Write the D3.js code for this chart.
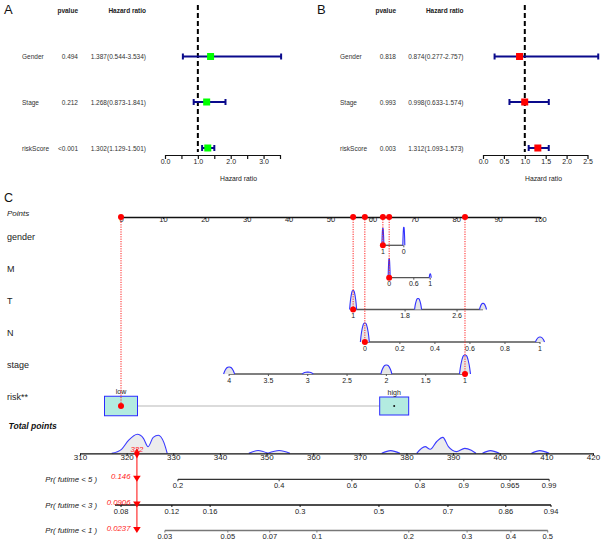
<!DOCTYPE html>
<html><head><meta charset="utf-8">
<script src="https://cdn.jsdelivr.net/npm/d3@7"></script>
<style>body{margin:0;background:#fff} svg{display:block} text{font-family:"Liberation Sans",Arial,sans-serif}</style>
</head><body><svg id="c" width="605" height="544"></svg>
<script>
// ---------- DATA ----------
const forestVars = ["Gender", "Stage", "riskScore"];
const uniP = ["0.494", "0.212", "<0.001"];
const uniHR = [1.387, 1.268, 1.302];
const uniLo = [0.544, 0.873, 1.129];
const uniHi = [3.534, 1.841, 1.501];
const multiP = ["0.818", "0.993", "0.003"];
const multiHR = [0.874, 0.998, 1.312];
const multiLo = [0.277, 0.633, 1.093];
const multiHi = [2.757, 1.574, 1.573];
const uniTicks = [0, 0.5, 1, 1.5, 2, 2.5, 3, 3.5];
const uniTickLabels = ["0.0", "", "1.0", "", "2.0", "", "3.0", ""];
const multiTicks = [0, 0.5, 1, 1.5, 2, 2.5];
const multiTickLabels = ["0.0", "0.5", "1.0", "1.5", "2.0", "2.5"];

const pointsTicks = [0, 10, 20, 30, 40, 50, 60, 70, 80, 90, 100];
const genderLabels = ["1", "0"];
const genderPts = [62.5, 67.5];
const genderDens = [1.0 * 0.9, 0.95];
const mTicks = [0, 0.6, 1];
const mRange = [0, 1], mPts = [64.0, 73.8];
const mDens = [[0, 1.0], [1, 0.2]];
const tTicks = [1, 1.8, 2.6];
const tRange = [1, 3], tPts = [55.4, 86.4];
const tDens = [[1, 1.0], [2, 0.58], [3, 0.32]];
const nTicks = [0, 0.2, 0.4, 0.6, 0.8, 1];
const nRange = [0, 1], nPts = [58.2, 100];
const nDens = [[0, 1.0], [1, 0.26]];
const stageTicks = [4, 3.5, 3, 2.5, 2, 1.5, 1];
const stageRange = [4, 1], stagePts = [25.8, 82.1];
const stageDens = [[4, 0.37], [3, 0.1], [2, 0.47], [1, 1.0]];
const riskLabels = ["low", "high"];
const riskPts = [0, 65.2];
const selected = {gender: 0, M: 0, T: 1, N: 0, stage: 1, risk: 0};

const totalTicks = [310, 320, 330, 340, 350, 360, 370, 380, 390, 400, 410, 420];
const totalDensity = [
  [[316.8, 0], [318.9, 0.21], [320.4, 0.68], [322.3, 1.0], [323.6, 0.79], [324.6, 0.35], [325.7, 0.84], [326.8, 0.95], [328.0, 0.56], [328.7, 0]],
  [[346.2, 0], [348.2, 0.15], [350.3, 0]],
  [[350.3, 0], [352.7, 0.15], [355.0, 0]],
  [[374.7, 0], [376.6, 0.14], [378.6, 0]],
  [[382.2, 0], [384.0, 0.35], [385.1, 0.21], [386.5, 0.62], [387.8, 0.84], [389.0, 0.35], [390.7, 0.09], [392.5, 0.26], [393.9, 0.16], [394.9, 0]],
  [[396.3, 0], [398.0, 0.14], [399.9, 0]],
  [[406.8, 0], [408.6, 0.14], [410.6, 0]]
];
const prLabels = ["Pr( futime < 5 )", "Pr( futime < 3 )", "Pr( futime < 1 )"];
const prPred = ["0.146", "0.0906", "0.0237"];
const pr5Ticks = ["0.2", "0.4", "0.6", "0.8", "0.9", "0.965", "0.99"];
const pr5At = [331.0, 352.7, 368.3, 382.9, 392.3, 402.2, 410.6];
const pr3Ticks = ["0.08", "0.12", "0.16", "0.3", "0.5", "0.7", "0.86", "0.94"];
const pr3At = [318.8, 329.7, 337.9, 357.2, 374.1, 388.9, 401.3, 411.0];
const pr1Ticks = ["0.03", "0.05", "0.07", "0.1", "0.2", "0.3", "0.4", "0.5"];
const pr1At = [328.2, 341.7, 350.7, 360.8, 380.5, 393.0, 402.4, 410.3];
const prAxisStart = [331.0, 317.5, 328.2];

// ---------- DRAW ----------
const svg = d3.select("#c");
const txt = (x, y, s, o = {}) => {
  const t = svg.append("text").attr("x", x).attr("y", y).text(s)
    .attr("font-size", o.size || 6.5).attr("fill", o.fill || "#222")
    .attr("text-anchor", o.anchor || "start").attr("dominant-baseline", "central");
  if (o.weight) t.attr("font-weight", o.weight);
  if (o.style) t.attr("font-style", o.style);
  return t;
};

function forest(cfg) {
  const x = d3.scaleLinear().domain(cfg.domain).range(cfg.range);
  const rows = d3.scaleOrdinal().domain(forestVars).range([56.5, 102, 148]);
  txt(cfg.letterX, 9.5, cfg.letter, {size: 13, fill: "#111"});
  txt(cfg.pX, 10, "pvalue", {size: 6.5, weight: "bold", anchor: "end"});
  txt(cfg.hrX, 10, "Hazard ratio", {size: 6.5, weight: "bold", anchor: "end"});
  forestVars.forEach((v, i) => {
    const y = rows(v);
    txt(cfg.labX, y, v, {size: 6.5, fill: "#333"});
    txt(cfg.pX, y, cfg.p[i], {size: 6.5, fill: "#333", anchor: "end"});
    txt(cfg.hrX, y, `${cfg.hr[i].toFixed(3)}(${cfg.lo[i].toFixed(3)}-${cfg.hi[i].toFixed(3)})`, {size: 6.5, fill: "#333", anchor: "end"});
  });
  svg.append("line").attr("x1", x(1)).attr("x2", x(1)).attr("y1", 5).attr("y2", 152)
    .attr("stroke", "#000").attr("stroke-width", 2).attr("stroke-dasharray", "5,3");
  forestVars.forEach((v, i) => {
    const y = rows(v);
    const g = svg.append("g").attr("stroke", "#0a0a8c").attr("stroke-width", 2);
    g.append("line").attr("x1", x(cfg.lo[i])).attr("x2", x(cfg.hi[i])).attr("y1", y).attr("y2", y);
    [cfg.lo[i], cfg.hi[i]].forEach(e => g.append("line").attr("x1", x(e)).attr("x2", x(e)).attr("y1", y - 3).attr("y2", y + 3));
    svg.append("rect").attr("x", x(cfg.hr[i]) - 3.5).attr("y", y - 3.5).attr("width", 7).attr("height", 7).attr("fill", cfg.box);
  });
  const ax = svg.append("g").attr("transform", "translate(0,155)")
    .call(d3.axisBottom(x).tickValues(cfg.ticks).tickFormat((d, i) => cfg.tickLabels[i]).tickSize(4).tickSizeOuter(0));
  ax.select(".domain").attr("stroke", "#111").attr("stroke-width", 1.2);
  ax.selectAll(".tick line").attr("stroke", "#111").attr("stroke-width", 1.2);
  ax.selectAll(".tick text").attr("font-size", 7).attr("fill", "#222").attr("dy", "0.3em").attr("font-family", '"Liberation Sans",Arial,sans-serif');
  txt(cfg.titleX, 178.5, "Hazard ratio", {size: 6.8, anchor: "middle"});
}
forest({letter: "A", letterX: 4, labX: 22, pX: 78, hrX: 146, p: uniP, hr: uniHR, lo: uniLo, hi: uniHi,
  domain: [0, 3.5], range: [165, 280], ticks: uniTicks, tickLabels: uniTickLabels, box: "#00ff00", titleX: 238.5});
forest({letter: "B", letterX: 317, labX: 340, pX: 396, hrX: 463.5, p: multiP, hr: multiHR, lo: multiLo, hi: multiHi,
  domain: [0, 2.5], range: [483, 587.5], ticks: multiTicks, tickLabels: multiTickLabels, box: "#ff0000", titleX: 543.5});

// ---------- NOMOGRAM ----------
txt(4, 198, "C", {size: 12.5, fill: "#111"});
const px = d3.scaleLinear().domain([0, 100]).range([121, 540]);
const Y = {points: 217, gender: 245.3, M: 277.7, T: 309.5, N: 342, stage: 374, risk: 406, total: 453.3, pr: [479.3, 505, 530.5]};
const rowLab = [["Points", 213.5, "italic"], ["gender", 236.7], ["M", 268.5], ["T", 300.5], ["N", 332.5], ["stage", 364.5], ["risk**", 396.7]];
rowLab.forEach(r => txt(7, r[1], r[0], {size: r[2] ? 8 : 9, style: r[2] || null, fill: "#222"}));
txt(8.5, 425.5, "Total points", {size: 8.6, weight: "bold", style: "italic", fill: "#111"});

// points axis
const pax = svg.append("g").attr("transform", `translate(0,${Y.points})`)
  .call(d3.axisBottom(px).tickValues(pointsTicks).tickSize(2).tickSizeOuter(0));
pax.select(".domain").attr("stroke", "#111").attr("stroke-width", 1.3);
pax.selectAll(".tick line").attr("stroke", "#111");
pax.selectAll(".tick text").attr("font-size", 7.5).attr("fill", "#222").attr("dy", "0.05em").attr("font-family", '"Liberation Sans",Arial,sans-serif');

const bumpStroke = "#3030ff", bumpFill = "#e6e6e6", DENS_H = 19;
function bump(cx, y, h, w) {
  const pts = [[-w, 0], [-0.75 * w, 0.5 * h], [-0.35 * w, 0.93 * h], [0, h], [0.35 * w, 0.93 * h], [0.75 * w, 0.5 * h], [w, 0]];
  const area = d3.area().x(d => cx + d[0]).y0(y).y1(d => y - d[1]).curve(d3.curveCardinal);
  const line = d3.line().x(d => cx + d[0]).y(d => y - d[1]).curve(d3.curveCardinal);
  svg.append("path").attr("d", area(pts)).attr("fill", bumpFill);
  svg.append("path").attr("d", line(pts)).attr("fill", "none").attr("stroke", bumpStroke).attr("stroke-width", 1.1);
}
function varRow(y, map, lineDom, ticks, labels, dens, w) {
  const g = svg.append("g");
  dens.forEach(d => bump(map(d[0]), y, d[1] * DENS_H, w));
  g.append("line").attr("x1", map(lineDom[0])).attr("x2", map(lineDom[1])).attr("y1", y).attr("y2", y)
    .attr("stroke", "#555").attr("stroke-width", 1.3);
  ticks.forEach((t, i) => {
    g.append("line").attr("x1", map(t)).attr("x2", map(t)).attr("y1", y).attr("y2", y + 2).attr("stroke", "#555");
    txt(map(t), y + 6, labels[i], {size: 7, anchor: "middle", fill: "#222"});
  });
}
const lin = (dom, pts) => v => px(d3.scaleLinear().domain(dom).range(pts)(v));
// gender
const gMap = i => px(genderPts[i]);
varRow(Y.gender, gMap, [0, 1], [0, 1], genderLabels, genderLabels.map((l, i) => [i, genderDens[i]]), 1);
const mMap = lin(mRange, mPts);
varRow(Y.M, mMap, mRange, mTicks, mTicks.map(String), mDens, 1);
const tMap = lin(tRange, tPts);
varRow(Y.T, tMap, tRange, tTicks, tTicks.map(String), tDens, 3.5);
const nMap = lin(nRange, nPts);
varRow(Y.N, nMap, nRange, nTicks, nTicks.map(String), nDens, 4.5);
const sMap = lin(stageRange, stagePts);
varRow(Y.stage, sMap, stageRange, stageTicks, stageTicks.map(String), stageDens, 5.5);

// risk boxes
const rx = i => px(riskPts[i]);
svg.append("line").attr("x1", rx(0)).attr("x2", rx(1)).attr("y1", Y.risk).attr("y2", Y.risk).attr("stroke", "#cfcfcf").attr("stroke-width", 1.5);
const boxSize = [[33, 19.5], [29, 18]];
riskLabels.forEach((l, i) => {
  svg.append("rect").attr("x", rx(i) - boxSize[i][0] / 2).attr("y", Y.risk - boxSize[i][1] / 2)
    .attr("width", boxSize[i][0]).attr("height", boxSize[i][1]).attr("fill", "#b3ebe0").attr("stroke", "#2b2bff").attr("stroke-width", 1);
  txt(rx(i), Y.risk - boxSize[i][1] / 2 - 4.5, l, {size: 7, anchor: "middle", fill: "#222"});
});
svg.append("circle").attr("cx", rx(1)).attr("cy", Y.risk).attr("r", 1).attr("fill", "#111");

// selected patient
const selPts = [
  [genderPts[selected.gender], Y.gender],
  [d3.scaleLinear().domain(mRange).range(mPts)(selected.M), Y.M],
  [d3.scaleLinear().domain(tRange).range(tPts)(selected.T), Y.T],
  [d3.scaleLinear().domain(nRange).range(nPts)(selected.N), Y.N],
  [d3.scaleLinear().domain(stageRange).range(stagePts)(selected.stage), Y.stage],
  [riskPts[selected.risk], Y.risk]
];
selPts.forEach(([p, y]) => {
  svg.append("line").attr("x1", px(p)).attr("x2", px(p)).attr("y1", Y.points).attr("y2", y)
    .attr("stroke", "#ff2020").attr("stroke-width", 1).attr("stroke-dasharray", "1.2,1.2");
});
selPts.forEach(([p, y]) => {
  svg.append("circle").attr("cx", px(p)).attr("cy", Y.points).attr("r", 3).attr("fill", "#ff0000");
  svg.append("circle").attr("cx", px(p)).attr("cy", y).attr("r", 3).attr("fill", "#ff0000");
});
const totalSel = d3.sum(selPts, d => d[0]);

// total points
const tx = d3.scaleLinear().domain([310, 420]).range([80, 593]);
const TD_H = 19;
totalDensity.forEach(seg => {
  svg.append("path").attr("d", d3.area().x(d => tx(d[0])).y0(Y.total).y1(d => Y.total - d[1] * TD_H).curve(d3.curveMonotoneX)(seg)).attr("fill", "#ececec");
  svg.append("path").attr("d", d3.line().x(d => tx(d[0])).y(d => Y.total - d[1] * TD_H).curve(d3.curveMonotoneX)(seg))
    .attr("fill", "none").attr("stroke", "#3a3aff").attr("stroke-width", 1.1);
});
const tax = svg.append("g").attr("transform", `translate(0,${Y.total})`)
  .call(d3.axisBottom(tx).tickValues(totalTicks).tickSize(2).tickSizeOuter(0));
tax.select(".domain").attr("stroke", "#111").attr("stroke-width", 1.3);
tax.selectAll(".tick line").attr("stroke", "#111");
tax.selectAll(".tick text").attr("font-size", 8).attr("fill", "#222").attr("dy", "0.15em").attr("font-family", '"Liberation Sans",Arial,sans-serif');

// probability axes
const prTicks = [pr5Ticks, pr3Ticks, pr1Ticks], prAt = [pr5At, pr3At, pr1At];
const prColor = ["#333", "#111", "#777"];
prLabels.forEach((l, k) => {
  const y = Y.pr[k];
  txt(97, y, l, {size: 7.8, style: "italic", anchor: "end", fill: "#222"});
  const at = prAt[k];
  svg.append("line").attr("x1", tx(prAxisStart[k])).attr("x2", tx(at[at.length - 1])).attr("y1", y).attr("y2", y)
    .attr("stroke", prColor[k]).attr("stroke-width", 1.3);
  at.forEach((a, i) => {
    svg.append("line").attr("x1", tx(a)).attr("x2", tx(a)).attr("y1", y).attr("y2", y + 2).attr("stroke", prColor[k]);
    txt(tx(a), y + 6, prTicks[k][i], {size: 7.5, anchor: "middle", fill: "#222"});
  });
});

// prediction marks
const xs = tx(totalSel);
svg.append("line").attr("x1", xs).attr("x2", xs).attr("y1", Y.total).attr("y2", Y.pr[2] - 2)
  .attr("stroke", "#ff4040").attr("stroke-width", 1.3);
svg.append("path").attr("d", d3.symbol(d3.symbolDiamond, 30)()).attr("transform", `translate(${xs},${Y.total})`).attr("fill", "#ff0000");
txt(xs, Y.total - 3.5, String(Math.round(totalSel)), {size: 7.8, style: "italic", anchor: "middle", fill: "#ff1a1a"});
prPred.forEach((v, k) => {
  const y = Y.pr[k];
  svg.append("path").attr("d", `M${xs - 3.8},${y - 3.5}L${xs + 3.8},${y - 3.5}L${xs},${y + 2.5}Z`).attr("fill", "#ff0000");
  txt(130.5, y - 2.5, v, {size: 7.8, style: "italic", anchor: "end", fill: "#ff1a1a"});
});
</script></body></html>
